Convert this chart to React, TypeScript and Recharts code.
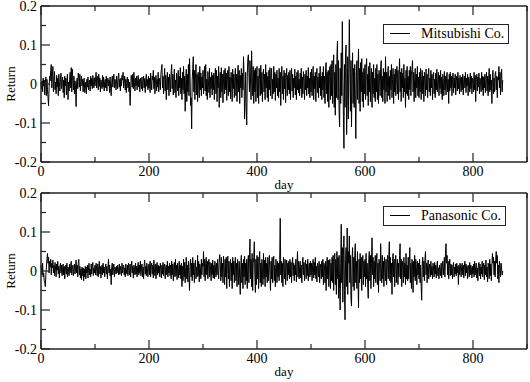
import { Legend, Line, LineChart, XAxis, YAxis } from "recharts"

// daily returns (day 0 .. 855)
const mitsubishi = [
  0.005, -0.012, 0.008, -0.02, 0.015, -0.005, 0.01, -0.028, 0.004, 0.018, -0.03, 0.012, -0.015, -0.035, -0.056, -0.01, 0.02, 0.008, 0.035, 0.05,
  -0.01, 0.02, 0.045, -0.02, 0.01, 0.032, -0.015, 0.005, -0.025, 0.022, -0.008, 0.015, -0.03, 0.025, 0.003, -0.018, 0.012, 0.028, -0.012, 0.006,
  0.018, -0.022, 0.01, -0.035, 0.02, -0.005, 0.015, -0.028, 0.008, 0.025, -0.04, 0.005, -0.018, 0.012, 0.03, -0.01, 0.042, -0.02, 0.038, 0.01,
  -0.015, 0.02, -0.025, 0.008, -0.01, -0.058, 0.005, 0.015, -0.012, 0.028, 0.018, -0.008, 0.025, -0.018, 0.01, 0.02, -0.005, 0.012, -0.02, 0.008,
  0.015, -0.022, -0.01, 0.005, -0.025, 0.012, -0.008, 0.018, -0.015, 0.002, 0.01, -0.018, 0.02, -0.005, 0.014, -0.012, 0.022, 0.006, -0.01, 0.016,
  -0.005, 0.012, 0.03, -0.01, 0.02, 0.008, -0.015, 0.025, -0.006, 0.015, -0.02, 0.01, 0.003, -0.012, 0.022, -0.008, 0.018, -0.018, 0.006, 0.012,
  -0.01, 0.02, -0.018, 0.008, 0.015, -0.005, 0.01, -0.022, 0.018, -0.012, -0.03, 0.005, 0.02, -0.008, 0.015, 0.025, -0.01, 0.012, 0.003, -0.015,
  0.02, 0.008, -0.012, 0.018, 0.028, -0.008, 0.012, -0.018, 0.015, -0.005, 0.022, 0.01, 0.03, -0.01, 0.005, 0.02, -0.015, 0.012, -0.022, 0.008,
  0.018, -0.01, 0.012, -0.02, 0.005, -0.055, -0.015, 0.022, 0.01, -0.008, 0.025, -0.012, 0.03, 0.005, -0.018, 0.015, -0.005, 0.02, -0.015, 0.01,
  0.022, -0.008, 0.012, -0.02, 0.015, 0.005, -0.012, 0.018, -0.018, 0.008, 0.02, -0.01, 0.014, -0.022, 0.01, 0.025, -0.006, 0.012, -0.015, 0.02,
  -0.01, 0.015, -0.022, 0.028, 0.005, -0.015, 0.02, 0.01, 0.035, -0.012, 0.018, -0.025, 0.008, 0.022, -0.018, 0.012, -0.008, 0.03, -0.02, 0.015,
  0.005, -0.015, 0.025, 0.038, 0.05, -0.01, 0.02, -0.025, 0.012, 0.04, -0.018, 0.022, -0.04, 0.008, 0.03, -0.015, 0.018, -0.03, 0.025, 0.01,
  -0.02, 0.032, 0.05, -0.012, 0.025, -0.028, 0.015, 0.038, -0.022, 0.01, -0.035, 0.028, 0.005, -0.018, 0.035, -0.03, 0.02, -0.01, 0.042, -0.025,
  0.015, -0.04, 0.03, -0.015, 0.045, -0.025, 0.02, -0.07, 0.01, 0.038, -0.045, 0.025, -0.02, 0.05, -0.03, 0.065, 0.02, -0.055, -0.035, -0.115,
  0.01, 0.04, 0.07, -0.02, 0.035, -0.04, 0.015, 0.05, -0.028, 0.025, -0.045, 0.03, 0.005, -0.035, 0.045, -0.015, 0.028, -0.03, 0.018, -0.01,
  0.035, -0.025, 0.02, 0.045, -0.018, 0.05, -0.03, 0.012, -0.04, 0.032, 0.008, -0.022, 0.04, -0.035, 0.018, -0.012, 0.03, -0.028, 0.022, -0.015,
  0.028, -0.04, 0.015, 0.04, -0.025, 0.035, -0.045, 0.02, -0.01, 0.045, -0.06, 0.01, 0.03, -0.035, 0.042, -0.02, 0.025, -0.048, 0.018, 0.035,
  -0.025, 0.04, -0.015, 0.028, -0.042, 0.012, 0.035, -0.03, 0.045, -0.02, 0.018, -0.038, 0.03, 0.005, -0.045, 0.038, -0.012, 0.025, -0.035, 0.02,
  0.04, -0.03, 0.025, -0.045, 0.015, 0.048, -0.02, 0.035, -0.05, 0.022, -0.01, 0.04, -0.035, 0.028, -0.015, 0.07, 0.02, -0.09, -0.04, 0.03,
  -0.06, -0.105, 0.02, 0.065, 0.075, 0.03, -0.02, 0.06, 0.01, -0.04, 0.085, 0.02, -0.03, 0.045, -0.05, 0.035, -0.02, 0.04, -0.045, 0.025,
  0.045, -0.035, 0.02, -0.05, 0.04, 0.012, -0.03, 0.048, -0.025, 0.03, -0.045, 0.015, 0.038, -0.02, 0.025, -0.04, 0.05, -0.01, 0.03, -0.035,
  0.02, -0.045, 0.035, -0.015, 0.042, -0.03, 0.018, 0.04, -0.038, 0.012, -0.025, 0.045, -0.02, 0.03, -0.042, 0.025, -0.01, 0.035, -0.03, 0.015,
  -0.035, 0.04, -0.02, 0.03, -0.055, 0.015, 0.045, -0.025, 0.02, -0.04, 0.035, -0.012, 0.028, -0.048, 0.018, 0.04, -0.03, 0.022, -0.015, 0.03,
  -0.025, 0.035, -0.04, 0.02, 0.04, -0.018, 0.025, -0.035, 0.015, -0.01, 0.038, -0.028, 0.02, -0.04, 0.03, -0.015, 0.035, -0.022, 0.012, -0.03,
  0.028, -0.012, 0.04, -0.035, 0.018, -0.025, 0.032, 0.008, -0.04, 0.025, -0.015, 0.035, -0.03, 0.02, -0.01, 0.042, -0.025, 0.015, -0.035, 0.03,
  -0.02, 0.038, -0.03, 0.015, 0.045, -0.04, 0.02, -0.012, 0.03, -0.045, 0.025, 0.04, -0.022, 0.018, -0.035, 0.028, -0.01, 0.045, -0.03, 0.02,
  -0.04, 0.03, -0.015, 0.045, -0.035, 0.02, -0.05, 0.04, 0.055, -0.025, 0.03, -0.045, 0.035, -0.06, 0.02, 0.045, -0.04, 0.05, -0.03, 0.06,
  -0.05, 0.04, 0.075, -0.06, 0.03, -0.08, 0.05, -0.035, 0.07, 0.11, -0.04, 0.06, -0.07, -0.11, 0.04, -0.05, 0.08, -0.03, 0.16, 0.02,
  -0.08, -0.165, 0.05, -0.06, 0.08, 0.1, -0.13, -0.04, 0.07, -0.09, 0.04, 0.165, 0.03, -0.07, 0.06, -0.11, 0.02, 0.08, -0.05, 0.04,
  -0.06, 0.05, -0.03, -0.14, 0.02, 0.06, -0.04, 0.03, 0.09, -0.05, 0.04, -0.07, 0.055, -0.02, 0.065, -0.045, 0.03, -0.06, 0.04, -0.025,
  0.05, -0.04, 0.035, 0.065, -0.03, 0.025, -0.055, 0.045, -0.02, 0.055, -0.045, 0.02, 0.04, -0.06, 0.03, -0.025, 0.05, -0.035, 0.015, -0.045,
  0.04, -0.02, 0.05, -0.04, 0.025, -0.05, 0.035, 0.015, -0.03, 0.045, 0.06, -0.035, 0.02, -0.045, 0.04, -0.015, 0.03, -0.05, 0.07, -0.02,
  0.03, -0.045, 0.025, 0.045, -0.03, 0.02, -0.04, 0.035, -0.015, 0.05, -0.035, 0.012, 0.04, -0.05, 0.025, -0.02, 0.038, -0.03, 0.015, 0.045,
  -0.025, 0.035, -0.04, 0.02, 0.065, -0.02, 0.03, -0.045, 0.04, -0.01, 0.028, -0.035, 0.05, -0.02, 0.015, -0.06, 0.035, -0.025, 0.045, -0.03,
  0.02, -0.04, 0.035, -0.015, 0.045, -0.03, 0.025, 0.038, 0.06, -0.02, 0.03, -0.045, 0.015, 0.04, -0.035, 0.025, -0.01, 0.045, -0.03, 0.018,
  -0.035, 0.03, -0.02, 0.04, -0.04, 0.015, 0.035, -0.025, 0.02, -0.045, 0.03, 0.01, -0.03, 0.038, -0.015, 0.025, -0.035, 0.02, 0.04, -0.02,
  0.015, -0.03, 0.035, -0.01, 0.025, -0.04, 0.02, 0.03, -0.025, 0.012, -0.035, 0.028, -0.015, 0.038, -0.02, 0.01, 0.03, -0.03, 0.022, -0.012,
  0.035, -0.025, 0.018, -0.04, 0.025, 0.005, -0.03, 0.032, -0.015, 0.02, -0.028, 0.015, 0.03, -0.02, 0.012, -0.05, 0.025, -0.018, 0.03, -0.01,
  0.02, -0.03, 0.012, 0.028, -0.022, 0.015, -0.01, 0.025, -0.028, 0.008, 0.02, -0.018, 0.03, -0.012, 0.015, -0.025, 0.022, 0.005, -0.02, 0.018,
  -0.015, 0.025, -0.028, 0.012, 0.02, -0.01, 0.03, -0.022, 0.015, -0.005, 0.025, -0.03, 0.018, 0.008, -0.02, 0.028, -0.012, 0.02, -0.025, 0.015,
  0.01, -0.02, 0.03, -0.015, 0.022, -0.045, 0.012, 0.025, -0.018, 0.018, -0.008, 0.028, -0.025, 0.015, 0.005, -0.02, 0.03, -0.015, 0.02, -0.03,
  0.018, -0.01, 0.025, -0.022, 0.012, 0.03, -0.018, 0.02, -0.03, 0.015, 0.04, -0.02, 0.025, -0.015, 0.01, -0.05, 0.02, 0.035, -0.025, 0.015,
  -0.02, 0.025, 0.032, -0.015, 0.02, -0.035, 0.018, 0.01, 0.045, -0.01, 0.03, -0.028, 0.015, 0.038, -0.02, 0.01,
]

const panasonic = [
  0.015, 0.005, -0.01, 0.02, -0.015, -0.005, -0.025, -0.03, -0.04, -0.01, 0.01, 0.03, 0.045, 0.02, 0.035, -0.005, 0.025, 0.01, 0.03, -0.01,
  0.02, 0.008, 0.028, -0.005, 0.015, -0.012, 0.022, 0.005, -0.015, 0.018, 0.002, 0.025, -0.008, 0.012, -0.018, 0.01, 0.02, -0.005, 0.015, -0.012,
  0.008, 0.018, -0.01, 0.012, -0.02, 0.005, 0.015, -0.008, 0.02, -0.015, 0.01, 0.002, -0.012, 0.018, -0.005, 0.012, 0.025, -0.01, 0.008, 0.015,
  -0.012, 0.005, 0.018, -0.008, 0.01, 0.028, -0.005, 0.015, -0.015, 0.02, 0.03, -0.01, 0.012, -0.018, 0.005, -0.022, 0.01, -0.012, 0.008, -0.025,
  0.005, -0.015, 0.012, -0.02, 0.01, -0.005, 0.015, -0.018, 0.008, 0.02, -0.01, 0.005, -0.015, 0.018, -0.008, 0.012, 0.022, -0.012, 0.008, -0.005,
  0.015, -0.01, 0.02, 0.005, -0.012, 0.018, -0.015, 0.01, 0.025, -0.008, 0.012, -0.018, 0.005, 0.015, -0.01, 0.02, -0.005, 0.01, -0.015, 0.008,
  0.018, -0.008, 0.012, -0.02, 0.01, 0.03, -0.005, 0.015, -0.012, 0.005, -0.035, 0.012, 0.02, -0.01, 0.008, 0.018, -0.015, 0.01, 0.005, -0.008,
  0.012, -0.005, 0.015, 0.005, -0.01, 0.018, -0.008, 0.012, 0.002, -0.012, 0.02, -0.005, 0.01, 0.015, -0.01, 0.008, -0.015, 0.018, 0.005, -0.008,
  0.015, -0.012, 0.02, 0.008, -0.01, 0.018, -0.015, 0.01, 0.025, -0.005, 0.012, -0.018, 0.015, 0.005, -0.01, 0.02, -0.008, 0.012, -0.015, 0.01,
  0.022, -0.01, 0.015, -0.005, 0.025, -0.012, 0.008, 0.018, -0.015, 0.01, -0.02, 0.015, 0.028, -0.008, 0.012, -0.012, 0.02, 0.005, -0.015, 0.01,
  0.018, -0.01, 0.025, -0.015, 0.012, 0.02, -0.008, 0.015, -0.018, 0.028, 0.005, -0.012, 0.018, -0.02, 0.01, 0.022, -0.01, 0.015, -0.005, 0.012,
  -0.015, 0.02, 0.005, -0.018, 0.015, -0.008, 0.022, -0.012, 0.01, 0.018, -0.02, 0.008, 0.015, -0.01, 0.025, -0.015, 0.012, -0.005, 0.02, -0.012,
  0.015, -0.02, 0.025, -0.01, 0.018, -0.025, 0.01, 0.022, -0.015, 0.03, -0.012, 0.015, -0.022, 0.02, 0.005, -0.018, 0.025, -0.01, 0.015, -0.02,
  0.02, -0.04, 0.012, -0.025, 0.03, -0.015, 0.022, -0.03, 0.01, 0.035, -0.02, 0.015, -0.028, 0.025, -0.01, -0.05, 0.018, 0.03, -0.015, 0.02,
  -0.025, 0.035, -0.01, 0.02, -0.03, 0.015, 0.028, -0.02, 0.01, -0.015, 0.04, -0.012, 0.025, -0.028, 0.018, 0.008, -0.02, 0.03, -0.01, 0.02,
  0.012, 0.05, -0.015, 0.03, -0.025, 0.02, 0.035, -0.01, 0.025, -0.02, 0.018, 0.03, -0.015, 0.022, 0.005, -0.025, 0.02, -0.01, 0.028, -0.018,
  0.015, -0.02, 0.025, 0.01, -0.015, 0.02, -0.01, 0.03, 0.005, -0.02, 0.028, 0.042, 0.015, -0.025, 0.035, -0.015, 0.02, -0.03, 0.038, 0.01,
  -0.035, 0.03, -0.015, 0.035, -0.045, 0.02, 0.038, -0.02, 0.025, -0.04, 0.015, 0.03, -0.025, 0.02, -0.045, 0.035, -0.01, 0.025, -0.03, 0.018,
  0.035, -0.025, 0.02, -0.04, 0.03, 0.012, -0.035, 0.025, -0.02, -0.06, 0.015, 0.04, -0.03, 0.02, -0.045, 0.03, -0.015, 0.038, -0.035, 0.02,
  -0.025, 0.03, -0.045, 0.02, 0.04, -0.03, 0.035, 0.082, -0.02, 0.03, -0.04, 0.045, -0.05, 0.02, 0.035, 0.075, -0.01, -0.055, 0.03, -0.035,
  0.04, -0.02, 0.035, -0.045, 0.025, 0.05, -0.03, 0.02, -0.04, 0.03, 0.01, -0.035, 0.045, -0.02, 0.028, -0.04, 0.035, -0.015, 0.02, -0.03,
  0.035, -0.025, 0.02, 0.04, -0.015, -0.05, 0.025, -0.02, 0.035, -0.03, 0.018, 0.038, -0.025, 0.015, -0.04, 0.03, 0.01, -0.03, 0.025, -0.015,
  0.02, -0.025, 0.03, 0.135, -0.01, 0.025, -0.03, 0.02, -0.04, 0.035, 0.01, -0.02, 0.03, -0.035, 0.015, 0.028, -0.025, 0.02, -0.01, 0.025,
  -0.02, 0.03, -0.015, 0.022, -0.03, 0.018, 0.035, -0.012, 0.02, -0.025, 0.015, -0.01, 0.03, -0.028, 0.012, 0.05, -0.015, 0.025, -0.02, 0.01,
  0.025, -0.018, 0.015, -0.03, 0.02, 0.035, -0.01, 0.022, -0.025, 0.012, 0.028, -0.02, 0.018, -0.012, 0.03, -0.025, 0.01, 0.02, -0.015, 0.025,
  -0.01, 0.02, -0.025, 0.015, 0.03, -0.018, 0.022, -0.01, 0.035, -0.02, 0.012, -0.028, 0.02, 0.01, -0.015, 0.025, -0.03, 0.018, 0.008, -0.02,
  0.025, -0.015, 0.03, -0.035, 0.02, 0.01, -0.03, 0.025, -0.05, 0.015, 0.035, -0.02, 0.028, -0.04, 0.018, 0.03, -0.045, 0.02, -0.025, 0.035,
  -0.03, 0.04, -0.05, 0.025, 0.045, -0.035, 0.03, -0.06, 0.05, -0.02, 0.035, -0.07, 0.04, -0.045, -0.1, 0.02, 0.12, -0.03, 0.06, -0.08,
  0.04, 0.09, -0.05, -0.125, 0.03, 0.06, -0.04, 0.11, -0.06, 0.05, 0.02, 0.09, -0.03, 0.04, -0.07, -0.09, 0.03, 0.06, -0.04, 0.035,
  -0.05, 0.04, 0.07, -0.03, 0.025, -0.045, 0.05, -0.02, -0.095, 0.03, -0.03, 0.045, -0.02, 0.035, -0.05, 0.02, 0.04, -0.035, 0.025, -0.015,
  0.03, -0.04, 0.045, -0.02, 0.02, -0.035, -0.07, 0.03, 0.05, -0.025, 0.04, -0.045, 0.02, 0.085, -0.01, 0.035, -0.04, 0.025, -0.02, 0.04,
  -0.03, 0.025, 0.045, -0.035, 0.02, -0.055, 0.03, 0.015, -0.025, 0.07, 0.01, -0.03, 0.04, -0.02, 0.025, -0.04, 0.035, 0.01, -0.025, 0.03,
  -0.035, 0.02, 0.04, -0.02, 0.03, 0.075, -0.025, 0.035, -0.03, 0.02, -0.06, 0.025, 0.045, -0.015, 0.03, -0.04, 0.02, 0.04, -0.03, 0.015,
  0.03, -0.035, 0.02, -0.015, 0.04, 0.07, -0.02, 0.03, -0.04, 0.025, 0.01, -0.03, 0.035, -0.015, 0.02, -0.035, 0.045, -0.02, 0.015, -0.025,
  0.035, -0.02, 0.025, 0.06, -0.03, 0.02, -0.045, 0.03, 0.015, -0.055, 0.025, -0.015, 0.04, -0.025, 0.03, 0.01, -0.035, 0.025, -0.01, 0.02,
  -0.02, 0.03, -0.03, 0.015, -0.04, -0.075, 0.02, 0.035, -0.015, 0.025, -0.025, 0.03, 0.05, -0.01, 0.02, -0.03, 0.015, 0.028, -0.02, 0.01,
  0.018, -0.015, 0.025, -0.01, 0.012, -0.02, 0.02, 0.005, -0.015, 0.022, -0.008, 0.015, -0.018, 0.01, 0.025, -0.012, 0.008, -0.02, 0.015, 0.005,
  -0.012, 0.02, -0.018, 0.012, 0.025, -0.01, 0.015, 0.035, -0.015, 0.045, 0.07, 0.02, 0.04, -0.01, 0.025, -0.02, 0.015, 0.03, -0.012, 0.018,
  -0.01, 0.015, -0.02, 0.012, 0.022, -0.015, 0.01, -0.008, 0.018, -0.012, 0.02, -0.005, 0.012, -0.035, 0.015, -0.01, 0.02, 0.008, -0.015, 0.012,
  0.02, -0.01, 0.015, -0.018, 0.01, 0.025, -0.012, 0.018, -0.005, 0.012, -0.02, 0.015, 0.008, -0.015, 0.022, -0.01, 0.015, 0.005, -0.018, 0.012,
  -0.008, 0.018, -0.015, 0.025, -0.01, 0.012, 0.02, -0.018, 0.008, -0.025, 0.015, 0.022, -0.012, 0.018, -0.02, 0.01, -0.008, 0.025, -0.015, 0.012,
  0.02, -0.022, 0.015, -0.01, 0.028, -0.015, 0.01, -0.028, 0.02, 0.012, -0.02, 0.03, -0.012, 0.018, -0.025, 0.015, 0.045, 0.02, 0.035, -0.01,
  0.025, -0.015, 0.03, 0.05, 0.02, 0.04, -0.02, 0.015, -0.03, 0.025, 0.01, -0.015, 0.02, 0.005, -0.01, 0.0,
]

const xTicks = [0, 100, 200, 300, 400, 500, 600, 700, 800, 900]
const xLabeled = [0, 200, 400, 600, 800]
const yTicks = [-0.2, -0.15, -0.1, -0.05, 0, 0.05, 0.1, 0.15, 0.2]
const yLabeled = [-0.2, -0.1, 0, 0.1, 0.2]

const serif = '"Liberation Serif", "Times New Roman", Times, serif'
const ink = "#222"
const frame = { stroke: ink, strokeWidth: 1.5 }
const tickText = { fontFamily: serif, fontSize: 14, fill: "#000" }
const titleText = { fontFamily: serif, fontSize: 13, fill: "#000" }

const toRows = (values: number[]) => values.map((value, day) => ({ day, value }))

// inward ticks: tickSize 0 so x/y land on the axis line, the mark is drawn here
const bottomTick = ({ x, y, payload }: any) => {
  const major = xLabeled.includes(payload.value)
  return (
    <g>
      <line x1={x} x2={x} y1={y} y2={y - (major ? 9 : 5)} stroke={ink} strokeWidth={1.2} />
      {major && (
        <text x={x} y={y + 14} textAnchor="middle" style={tickText}>
          {payload.value}
        </text>
      )}
    </g>
  )
}

const topTick = ({ x, y, payload }: any) => {
  const major = xLabeled.includes(payload.value)
  return <line x1={x} x2={x} y1={y} y2={y + (major ? 9 : 5)} stroke={ink} strokeWidth={1.2} />
}

const leftTick = ({ x, y, payload }: any) => {
  const major = yLabeled.includes(payload.value)
  return (
    <g>
      <line x1={x} x2={x + (major ? 9 : 5)} y1={y} y2={y} stroke={ink} strokeWidth={1.2} />
      {major && (
        <text x={x - 4} y={y} dy="0.35em" textAnchor="end" style={tickText}>
          {payload.value}
        </text>
      )}
    </g>
  )
}

const rightTick = ({ x, y, payload }: any) => {
  const major = yLabeled.includes(payload.value)
  return <line x1={x} x2={x - (major ? 9 : 5)} y1={y} y2={y} stroke={ink} strokeWidth={1.2} />
}

const dayLabel = ({ viewBox }: any) => (
  <text x={viewBox.x + viewBox.width / 2} y={viewBox.y + 27} textAnchor="middle" style={titleText}>
    day
  </text>
)

const returnLabel = ({ viewBox }: any) => {
  const cx = viewBox.x + viewBox.width - 31
  const cy = viewBox.y + viewBox.height / 2
  return (
    <text x={cx} y={cy} dy="0.35em" textAnchor="middle" transform={`rotate(-90 ${cx} ${cy})`} style={titleText}>
      Return
    </text>
  )
}

const LegendBox = ({ payload }: any) => {
  if (!payload || !payload.length) return null
  return (
    <div
      style={{
        display: "inline-flex",
        alignItems: "center",
        boxSizing: "border-box",
        height: 20,
        padding: "0 4px 0 6px",
        border: `1px solid ${ink}`,
        background: "#fff",
        fontFamily: serif,
        fontSize: 14,
        color: "#000",
        whiteSpace: "nowrap",
      }}
    >
      <span style={{ display: "inline-block", width: 20, borderTop: "1px solid #000", marginRight: 11 }} />
      {payload[0].value}
    </div>
  )
}

interface PanelProps {
  values: number[]
  name: string
  top: number
  height: number
  legendTop: number
  bottom: number
}

// axes get 1px so recharts still draws them; plot box runs x 41..527
const Panel = ({ values, name, top, height, legendTop, bottom }: PanelProps) => (
  <div style={{ position: "absolute", left: 0, top }}>
    <LineChart width={530} height={height} data={toRows(values)} margin={{ top: 4, right: 2, bottom, left: 40 }}>
      <XAxis
        dataKey="day"
        type="number"
        domain={[0, 900]}
        ticks={xTicks}
        interval={0}
        height={1}
        tickSize={0}
        tickMargin={0}
        tickLine={false}
        axisLine={frame}
        tick={bottomTick}
        label={dayLabel}
      />
      <XAxis
        xAxisId="top"
        orientation="top"
        dataKey="day"
        type="number"
        domain={[0, 900]}
        ticks={xTicks}
        interval={0}
        height={1}
        tickSize={0}
        tickMargin={0}
        tickLine={false}
        axisLine={frame}
        tick={topTick}
      />
      <YAxis
        type="number"
        domain={[-0.2, 0.2]}
        ticks={yTicks}
        interval={0}
        width={1}
        tickSize={0}
        tickMargin={0}
        tickLine={false}
        axisLine={frame}
        tick={leftTick}
        label={returnLabel}
      />
      <YAxis
        yAxisId="right"
        orientation="right"
        type="number"
        domain={[-0.2, 0.2]}
        ticks={yTicks}
        interval={0}
        width={1}
        tickSize={0}
        tickMargin={0}
        tickLine={false}
        axisLine={frame}
        tick={rightTick}
      />
      <Legend
        layout="horizontal"
        align="center"
        verticalAlign="middle"
        content={<LegendBox />}
        wrapperStyle={{ top: legendTop, left: 383, width: "auto", height: "auto" }}
      />
      <Line
        type="linear"
        dataKey="value"
        name={name}
        stroke="#000"
        strokeWidth={1}
        dot={false}
        activeDot={false}
        isAnimationActive={false}
      />
    </LineChart>
  </div>
)

export default function App() {
  return (
    <div style={{ position: "absolute", left: 0, top: 0, width: 530, height: 382, background: "#fff" }}>
      <style>{".recharts-surface { overflow: visible; }"}</style>
      <Panel values={mitsubishi} name="Mitsubishi Co." top={1} height={191} legendTop={19} bottom={29} />
      <Panel values={panasonic} name="Panasonic Co." top={188} height={194} legendTop={14} bottom={32} />
    </div>
  )
}
